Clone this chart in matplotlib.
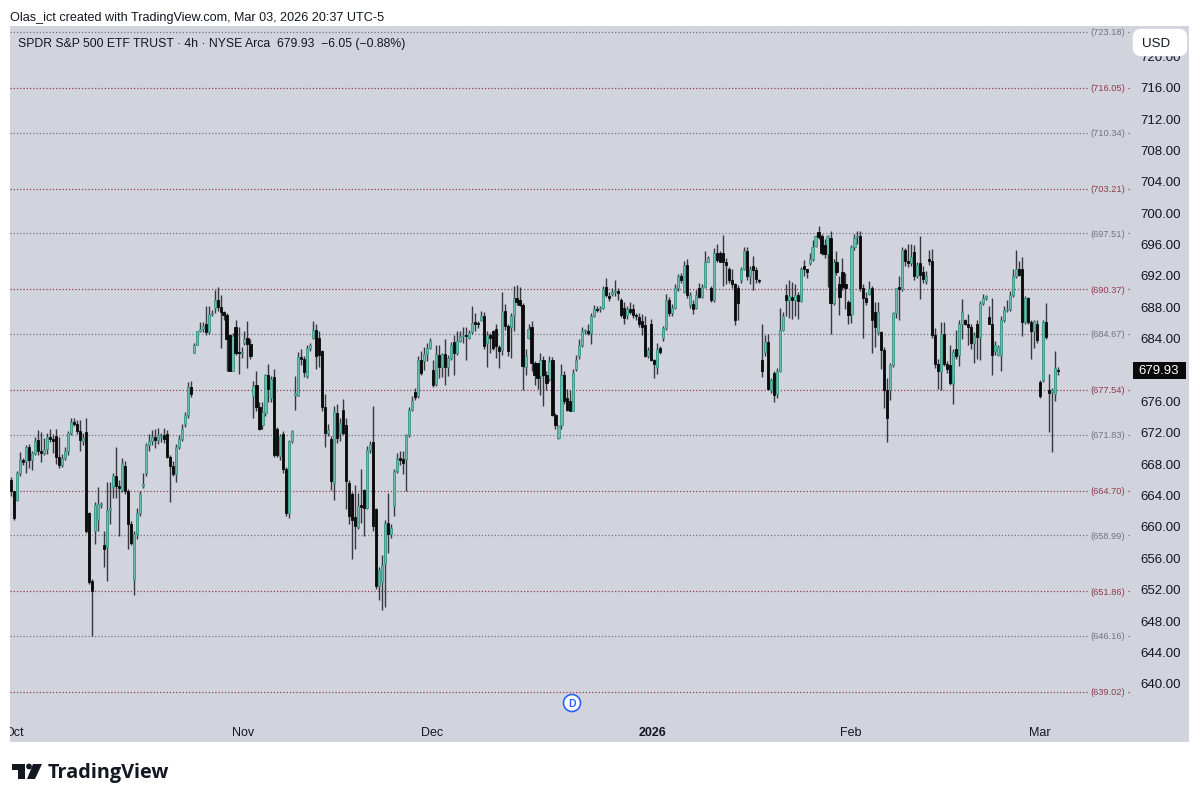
import numpy as np
import matplotlib
matplotlib.use('Agg')
import matplotlib.pyplot as plt
from matplotlib.patches import Rectangle, FancyBboxPatch, Polygon, Circle

plt.rcParams['font.family'] = ['Liberation Sans', 'DejaVu Sans']

# 4h candles
opens = [
    666.0, 664.6, 663.5, 666.9, 668.6, 668.5, 670.3, 668.6, 669.5, 671.2,
    669.8, 669.5, 670.0, 671.5, 671.3, 671.6, 669.0, 667.9, 668.8, 669.7,
    672.0, 673.4, 673.2, 672.3, 671.0, 672.2, 661.8, 653.2, 659.5,
    660.9, 662.8, 657.7, 657.5, 662.2, 665.2, 666.5, 665.3, 664.8, 667.8,
    664.7, 660.5, 653.3, 659.2, 661.8, 665.3, 666.9, 670.5, 671.0, 671.5,
    671.2, 671.5, 671.8, 671.9, 669.0, 667.8, 666.8, 670.3, 671.3, 673.2, 674.3,
    677.9, 682.3, 683.3, 685.0, 685.3, 686.0, 684.9, 687.2, 688.0, 689.0,
    688.1, 687.5, 687.1, 684.5, 680.0, 685.5, 682.3, 682.2, 683.5, 684.2,
    683.4, 676.7, 678.2, 675.3, 673.0, 674.6, 679.4, 676.5, 679.2, 672.5,
    669.1, 671.9, 667.4, 661.9, 671.0, 676.9, 676.8, 681.7, 681.5, 679.3,
    682.9, 684.2, 685.2, 684.2, 682.5, 675.3, 672.0, 671.3, 665.7,
    674.6, 672.1, 675.0, 673.0, 665.7, 664.2, 661.3, 660.1, 662.7,
    664.8, 662.5, 669.9, 670.9, 662.3, 652.5, 653.0, 655.3, 660.6, 659.1,
    662.7, 667.2, 668.7, 668.7, 668.7, 671.8, 675.0, 677.3, 676.7, 681.4, 681.2,
    682.1, 682.9, 680.1, 678.3, 682.0, 680.4, 682.1, 680.5, 681.6, 683.6,
    682.3, 683.8, 684.4, 684.6, 684.2, 684.9, 686.1, 686.0, 686.5, 687.0, 683.5,
    684.6, 685.0, 685.3, 683.0, 682.6, 687.6, 685.7, 685.5, 687.0, 689.3,
    689.0, 688.4, 680.4, 684.2, 685.5, 681.0, 681.0, 679.3, 681.3, 679.5,
    678.9, 681.4, 674.4, 671.4, 673.0, 679.5, 676.5, 676.1, 674.9, 680.2,
    681.9, 683.3, 685.0, 685.1, 684.8, 687.0, 687.9, 687.8, 688.0, 690.6,
    689.5, 689.8, 690.0, 690.0, 689.0, 688.0, 687.1, 687.9, 687.9, 687.1,
    686.8, 686.3, 685.8, 681.8, 686.0, 681.3, 680.5, 682.9, 684.2, 685.4,
    689.0, 687.3, 688.0, 690.5, 692.0, 690.0, 693.5, 688.3, 688.5, 688.0,
    690.5, 689.4, 690.7, 693.9, 690.5, 689.0, 695.0, 695.0, 695.0, 693.9,
    693.0, 691.6, 691.0, 690.5, 691.6, 693.0, 695.2, 692.0, 693.3, 692.8,
    691.5, 681.4, 682.4, 683.7, 677.5, 679.7, 677.0, 680.0, 685.2, 689.6,
    689.0, 689.4, 689.0, 689.6, 688.9, 693.3, 692.9, 693.7, 694.2, 695.9,
    697.7, 697.1, 696.0, 694.9, 696.9, 688.6, 693.9, 691.1, 692.6, 691.0,
    688.8, 687.2, 695.7, 697.0, 697.1, 690.5, 689.2, 689.8, 690.5, 687.5,
    684.9, 684.9, 682.6, 677.5, 677.5, 680.7, 687.3, 690.6, 690.4, 695.4,
    694.0, 693.7, 695.1, 692.0, 693.7, 692.6, 691.4, 694.1, 694.0, 684.5,
    680.9, 680.0, 684.7, 680.9, 680.7, 678.4, 682.7, 682.0, 686.0, 686.4,
    686.0, 685.5, 683.5, 686.0, 684.3, 688.6, 689.3, 686.8, 686.0, 682.5,
    682.0, 682.0, 686.4, 687.7, 687.9, 689.6, 692.0, 693.0, 693.0, 686.2,
    689.2, 686.2, 685.1, 686.0, 678.6, 678.8, 686.2, 677.5, 677.3, 677.0,
    680.0,
]
highs = [
    666.4, 664.6, 667.2, 669.6, 668.9, 670.5, 670.6, 669.8, 671.5, 672.4,
    672.2, 671.4, 672.0, 672.5, 671.9, 672.6, 671.5, 669.4, 670.2, 672.3,
    674.0, 674.0, 673.7, 673.7, 672.0, 673.9, 662.0, 653.4, 663.2,
    665.2, 663.2, 659.5, 665.8, 665.8, 667.0, 670.2, 666.0, 668.8, 668.5,
    664.9, 660.8, 659.5, 662.5, 664.6, 666.9, 670.8, 671.9, 672.4, 672.5,
    672.7, 672.0, 672.7, 672.4, 669.2, 668.5, 670.6, 671.8, 673.2, 674.7, 678.6,
    678.7, 683.5, 685.1, 686.2, 686.2, 688.2, 688.2, 687.7, 690.3, 690.7,
    689.6, 687.6, 687.3, 684.7, 684.8, 686.5, 685.5, 683.0, 685.0, 686.3,
    684.0, 678.7, 680.0, 676.0, 676.0, 679.6, 680.9, 679.3, 680.2, 672.8,
    671.9, 672.3, 667.7, 671.2, 672.4, 679.3, 682.4, 682.8, 681.8, 683.3,
    683.5, 686.3, 686.0, 685.0, 682.6, 677.0, 673.2, 671.6, 675.5,
    675.8, 674.0, 676.4, 673.9, 666.0, 664.5, 665.4, 664.4, 667.4,
    664.9, 670.4, 671.0, 675.5, 662.5, 655.0, 656.5, 661.0, 664.4, 660.5,
    667.5, 669.5, 669.8, 669.7, 671.9, 675.3, 676.8, 677.8, 681.9, 682.5, 683.0,
    683.5, 684.2, 681.4, 683.2, 683.2, 682.3, 684.0, 682.0, 683.7, 684.5,
    685.0, 685.0, 685.5, 685.6, 685.2, 688.2, 687.4, 686.3, 687.6, 687.5, 685.0,
    684.8, 685.2, 686.0, 683.3, 690.0, 688.5, 686.0, 687.4, 690.8, 690.9,
    690.6, 688.6, 682.7, 686.0, 686.3, 681.2, 681.0, 682.2, 681.8, 680.0,
    681.8, 681.7, 674.6, 673.0, 680.8, 679.9, 677.6, 677.5, 680.2, 682.0,
    684.0, 685.6, 685.3, 686.0, 687.3, 688.3, 688.2, 688.2, 690.8, 691.8,
    690.0, 690.5, 691.6, 690.5, 689.2, 688.8, 688.2, 688.8, 688.5, 687.4,
    687.4, 687.2, 687.0, 683.0, 686.6, 681.5, 683.5, 683.1, 685.7, 689.8,
    689.4, 688.5, 691.0, 692.3, 692.5, 694.0, 694.2, 690.0, 689.0, 690.3,
    691.2, 691.0, 695.3, 694.6, 690.8, 695.6, 696.2, 695.2, 697.3, 694.3,
    693.2, 693.0, 691.2, 690.9, 693.2, 695.8, 695.7, 693.3, 694.6, 693.2,
    691.7, 686.0, 684.5, 684.7, 679.0, 680.0, 680.3, 688.0, 687.5, 691.0,
    691.5, 691.3, 691.0, 690.0, 693.2, 694.1, 693.0, 695.0, 696.7, 697.3,
    698.4, 697.4, 696.8, 697.3, 697.8, 694.2, 695.3, 692.0, 694.3, 692.5,
    689.0, 696.0, 697.4, 697.8, 697.8, 691.0, 690.0, 691.4, 690.8, 688.7,
    688.7, 685.1, 683.0, 679.0, 681.0, 687.5, 690.5, 692.0, 695.8, 695.6,
    696.2, 696.1, 696.0, 693.9, 697.1, 693.4, 692.7, 695.4, 695.5, 685.4,
    681.5, 686.2, 686.2, 681.2, 683.2, 682.8, 685.2, 686.5, 689.1, 686.6,
    687.2, 686.0, 684.9, 686.4, 688.9, 689.8, 689.6, 688.2, 689.3, 683.8,
    683.3, 686.9, 688.2, 689.0, 690.2, 693.0, 695.4, 694.0, 694.5, 689.5,
    689.4, 686.5, 686.5, 686.5, 678.8, 686.5, 688.6, 679.6, 677.8, 682.5,
    680.4,
]
lows = [
    664.0, 660.9, 663.4, 666.5, 668.0, 666.9, 667.6, 667.3, 669.3, 669.2,
    668.3, 669.3, 669.4, 670.9, 669.5, 668.1, 667.6, 667.7, 668.6, 669.3,
    671.8, 672.9, 671.9, 669.8, 670.5, 659.3, 652.8, 646.1, 657.9,
    659.5, 662.5, 655.0, 653.2, 660.5, 663.8, 663.8, 658.9, 664.5, 664.2,
    657.2, 657.8, 651.4, 658.5, 661.5, 665.0, 666.5, 669.8, 670.5, 670.1,
    670.6, 670.9, 670.8, 668.8, 663.3, 666.5, 665.8, 670.0, 671.0, 672.8, 674.0,
    676.6, 682.2, 683.2, 684.9, 684.9, 684.6, 684.7, 687.0, 687.3, 687.6,
    682.9, 686.5, 680.0, 679.9, 680.0, 682.0, 679.6, 681.6, 683.3, 680.3,
    681.5, 673.9, 674.8, 672.4, 672.5, 674.2, 676.0, 676.0, 669.0, 669.0,
    668.6, 667.0, 661.4, 661.2, 670.8, 675.0, 676.7, 680.7, 679.2, 679.0,
    682.5, 684.0, 680.2, 680.5, 674.9, 670.3, 671.7, 664.8, 663.5,
    670.8, 671.0, 671.8, 662.3, 660.5, 656.0, 657.2, 659.8, 660.6,
    658.9, 662.3, 669.5, 659.5, 652.2, 650.8, 649.5, 649.8, 656.8, 658.7,
    661.5, 667.0, 668.0, 666.8, 664.6, 671.5, 674.8, 676.3, 676.5, 679.5, 680.1,
    681.2, 682.7, 677.9, 678.0, 679.0, 679.2, 678.2, 679.3, 681.3, 679.5,
    682.0, 683.6, 683.5, 681.4, 684.0, 684.7, 685.0, 685.4, 686.3, 682.7, 680.5,
    682.2, 682.6, 681.6, 680.3, 682.0, 685.2, 681.8, 681.6, 685.0, 688.4,
    688.2, 677.5, 679.4, 684.0, 680.0, 678.2, 677.7, 676.9, 675.5, 677.5,
    678.7, 674.2, 672.5, 671.3, 672.5, 675.8, 674.9, 674.8, 674.8, 680.0,
    681.5, 683.0, 684.7, 684.5, 683.4, 686.8, 687.5, 687.5, 687.8, 689.4,
    688.9, 689.5, 689.5, 689.0, 686.8, 685.9, 686.6, 687.2, 686.7, 686.4,
    685.6, 684.5, 681.7, 681.6, 681.2, 679.0, 679.6, 682.1, 683.8, 685.2,
    687.0, 687.0, 687.8, 690.2, 691.2, 689.9, 689.2, 688.0, 687.2, 687.8,
    689.2, 689.2, 690.5, 693.8, 688.8, 688.8, 693.9, 693.8, 690.8, 691.0,
    691.2, 690.5, 685.8, 686.5, 691.2, 692.8, 691.6, 691.0, 690.3, 691.2,
    691.2, 679.2, 681.9, 677.5, 677.2, 676.0, 676.5, 679.8, 685.0, 687.0,
    686.7, 686.6, 686.9, 686.6, 688.7, 692.0, 691.8, 693.5, 694.0, 695.8,
    696.8, 694.8, 694.3, 690.6, 684.7, 688.3, 692.2, 687.1, 690.3, 687.8,
    686.0, 686.1, 695.4, 696.2, 690.2, 684.1, 688.4, 689.6, 682.2, 683.0,
    684.6, 680.2, 675.2, 670.9, 676.2, 680.5, 686.7, 686.5, 690.2, 693.3,
    693.2, 693.4, 691.6, 691.8, 689.1, 691.2, 691.0, 693.5, 684.2, 680.3,
    677.7, 677.5, 680.6, 679.7, 678.1, 675.7, 681.5, 680.6, 684.0, 685.8,
    683.3, 682.8, 681.0, 681.5, 681.3, 688.3, 689.0, 686.0, 679.4, 682.0,
    681.8, 680.0, 686.2, 687.5, 687.6, 689.4, 691.8, 692.0, 684.4, 686.0,
    686.0, 681.5, 682.9, 683.5, 676.5, 678.6, 684.0, 672.2, 669.6, 676.1,
    679.5,
]
closes = [
    664.6, 661.2, 666.9, 668.6, 668.4, 670.3, 668.6, 669.5, 671.0, 669.8,
    669.5, 670.0, 671.5, 671.3, 671.0, 669.0, 667.9, 668.8, 669.7, 672.0,
    673.4, 673.2, 672.3, 671.1, 671.4, 659.5, 653.0, 651.9, 662.9,
    663.0, 663.0, 657.3, 662.2, 662.5, 666.5, 665.3, 665.0, 668.2, 664.7,
    660.5, 658.0, 659.2, 661.8, 664.2, 665.5, 670.5, 671.0, 671.5, 671.2,
    671.8, 671.6, 671.3, 669.0, 667.8, 666.8, 670.3, 671.3, 672.6, 674.3, 677.9,
    677.0, 683.3, 685.0, 685.3, 685.7, 684.9, 687.2, 687.4, 689.0, 688.1,
    687.5, 687.1, 684.0, 680.0, 684.4, 682.3, 682.2, 682.2, 684.0, 683.4,
    681.9, 678.0, 675.3, 672.5, 674.7, 679.4, 677.6, 678.9, 669.3, 669.3,
    671.7, 667.4, 661.9, 671.0, 672.3, 677.0, 681.7, 681.5, 679.8, 682.9,
    683.3, 685.2, 681.9, 682.0, 675.3, 672.0, 672.4, 665.9, 674.8,
    671.4, 673.3, 672.1, 665.9, 661.4, 660.9, 660.2, 662.7, 662.6,
    662.5, 669.9, 670.7, 660.2, 652.5, 654.6, 655.2, 660.6, 659.1, 659.9,
    667.2, 668.7, 668.6, 668.2, 671.8, 675.0, 676.1, 676.6, 681.4, 679.7, 682.1,
    682.9, 683.8, 678.2, 682.1, 680.4, 682.1, 680.5, 681.6, 683.3, 682.3,
    683.8, 684.4, 684.6, 684.4, 684.8, 686.1, 686.0, 685.9, 687.0, 683.1, 684.6,
    684.2, 682.9, 683.1, 682.5, 687.6, 685.7, 682.5, 687.0, 689.3, 688.7,
    688.4, 680.6, 681.9, 685.3, 681.0, 679.5, 679.0, 681.3, 679.4, 678.4,
    681.2, 674.4, 673.1, 672.9, 679.5, 676.1, 675.0, 674.9, 679.7, 681.4,
    683.3, 685.0, 685.1, 684.8, 687.0, 687.9, 687.7, 688.0, 690.4, 689.7,
    689.3, 690.0, 690.0, 689.9, 687.1, 686.7, 687.9, 687.5, 687.1, 686.9,
    685.9, 685.5, 681.8, 682.6, 681.3, 680.9, 682.8, 682.4, 685.4, 689.0,
    687.3, 688.0, 690.5, 692.0, 691.6, 693.5, 689.7, 689.6, 687.8, 689.6,
    689.4, 690.7, 693.9, 694.3, 689.0, 695.0, 694.1, 693.9, 693.9, 693.5,
    691.6, 691.0, 686.4, 688.6, 693.0, 695.2, 692.0, 693.0, 692.8, 691.7,
    691.4, 680.0, 683.7, 677.7, 678.8, 676.9, 680.0, 685.2, 687.0, 689.0,
    689.5, 689.0, 689.6, 688.9, 693.0, 692.9, 692.6, 694.2, 695.8, 697.1,
    697.0, 695.0, 694.9, 697.1, 688.6, 693.9, 692.6, 689.4, 690.7, 690.5,
    687.1, 695.7, 696.9, 697.0, 690.5, 689.2, 688.8, 690.4, 686.4, 685.5,
    687.5, 682.6, 677.5, 673.9, 680.7, 687.3, 690.5, 690.4, 695.4, 694.0,
    693.7, 694.5, 692.0, 693.5, 692.2, 691.7, 692.1, 694.0, 684.5, 680.9,
    680.0, 684.7, 680.9, 680.2, 678.4, 682.4, 681.9, 686.0, 687.5, 686.0,
    685.5, 683.5, 684.5, 684.3, 688.6, 689.3, 689.4, 686.0, 682.0, 683.3,
    683.0, 686.4, 687.7, 687.9, 689.6, 692.0, 693.0, 692.2, 686.2, 689.2,
    686.2, 685.1, 686.3, 683.9, 676.7, 686.2, 684.3, 677.2, 677.3, 680.3,
    679.93,
]

# price levels drawn across the chart
red_levels = [716.05, 703.21, 690.37, 677.54, 664.70, 651.86, 639.02]
gray_levels = [723.18, 710.34, 697.51, 684.67, 671.83, 658.99, 646.16]
price_ticks = [720, 716, 712, 708, 704, 700, 696, 692, 688, 684, 676, 672, 668, 664, 660, 656, 652, 648, 644, 640]
month_names = ['Oct', 'Nov', 'Dec', '2026', 'Feb', 'Mar']
month_pos = [1, 77.5, 140.7, 214.3, 280.9, 344]

print(len(opens), len(highs), len(lows), len(closes))
o = np.array(opens)
h = np.array(highs)
l = np.array(lows)
c = np.array(closes)
x = np.arange(len(c))

bg = '#d1d4dc'
fig = plt.figure(figsize=(12, 8.03), dpi=100, facecolor='white')
ax = fig.add_axes([10 / 1200, 1 - 743 / 803, 1179 / 1200, 716 / 803])
ax.set_facecolor(bg)
ax.set_xlim(-0.43, 393.9)
ax.set_ylim(632.64, 723.94)
ax.set_xticks([])
ax.set_yticks([])
for s in ax.spines.values():
    s.set_visible(False)

# levels
trans = ax.get_yaxis_transform()
for levels, col in [(red_levels, '#8f3d4e'), (gray_levels, '#73767f')]:
    for lv in levels:
        ax.plot([0, 0.9135], [lv, lv], transform=trans, color=col, lw=0.9, ls=(0, (1, 1.6)), zorder=1)
        ax.plot([0.948, 0.9505], [lv, lv], transform=trans, color=col, lw=0.9, ls=(0, (1, 1.6)), zorder=1)
        ax.text(0.9165, lv, '(%.2f)' % lv, transform=trans, color=col, fontsize=6.7, va='center', ha='left')

# candles
up = c >= o
ax.vlines(x, l, h, color='#36393f', lw=1.0, zorder=2)
ax.bar(x[up], np.maximum(c[up] - o[up], 0.2), bottom=o[up], width=0.72, color='#68bdac', edgecolor='#3a9587', lw=0.6, zorder=3)
ax.bar(x[~up], np.maximum(o[~up] - c[~up], 0.2), bottom=c[~up], width=0.72, color='#0a0a0a', edgecolor='#0a0a0a', lw=0.6, zorder=3)

# price scale
for t in price_ticks:
    ax.text(0.9585, t, '%.2f' % t, transform=trans, color='#131722', fontsize=9.5, va='center', ha='left')

# months
for name, pos in zip(month_names, month_pos):
    ax.text(pos, 633.9, name, color='#131722', fontsize=9, ha='center', va='center',
            fontweight='bold' if name == '2026' else 'normal', clip_on=True)

# everything else placed in picture pixels
ov = fig.add_axes([0, 0, 1, 1], zorder=5)
ov.set_xlim(0, 1200)
ov.set_ylim(803, 0)
ov.axis('off')
ov.text(10, 18, 'Olas_ict created with TradingView.com, Mar 03, 2026 20:37 UTC-5', fontsize=9.13, color='#131722', va='center')
ov.text(18, 44, 'SPDR S&P 500 ETF TRUST · 4h · NYSE Arca  679.93  \u22126.05 (\u22120.88%)', fontsize=8.8, color='#131722', va='center')

ov.add_patch(FancyBboxPatch((1137, 34), 46, 19, boxstyle='round,pad=0,rounding_size=4', mutation_aspect=1,
                            fc='white', ec='white', lw=6, zorder=6))
ov.text(1156, 44, 'USD', fontsize=9.6, color='#131722', ha='center', va='center', zorder=7)

ov.add_patch(Rectangle((1133, 363), 53, 17, fc='#0a0a0a', ec='none', zorder=6))
ov.text(1159, 371.5, '679.93', fontsize=9.5, color='white', ha='center', va='center', zorder=7)

ov.add_patch(Circle((572, 704), 8.5, fc='white', ec='#2962ff', lw=1.2, zorder=6))
ov.text(572, 704, 'D', fontsize=7.5, color='#2962ff', ha='center', va='center', fontweight='bold', zorder=7)

# logo
ov.add_patch(Polygon([(12, 765), (25, 765), (25, 780), (18, 780), (18, 771), (12, 771)], fc='#131722', ec='none'))
ov.add_patch(Circle((29, 767.5), 2.9, fc='#131722', ec='none'))
ov.add_patch(Polygon([(33, 765), (42, 765), (35, 780), (27, 780)], fc='#131722', ec='none'))
ov.text(48, 773, 'TradingView', fontsize=14.3, fontweight='bold', color='#131722', va='center',
        family=['Open Sans', 'DejaVu Sans'])

fig.savefig('out.png', dpi=100, facecolor='white')
